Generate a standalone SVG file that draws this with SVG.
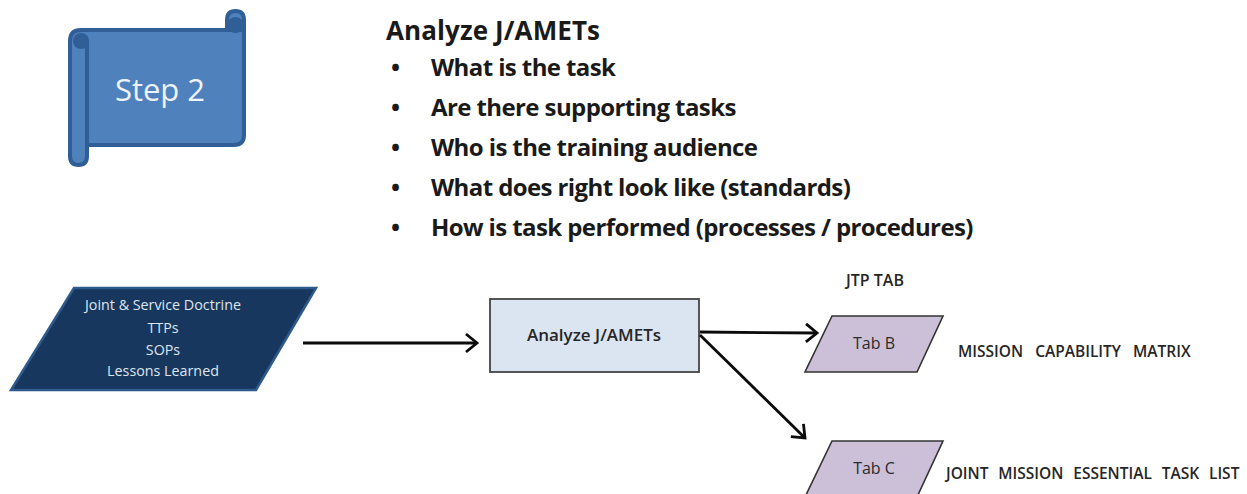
<svg xmlns="http://www.w3.org/2000/svg" width="1247" height="494" viewBox="0 0 1247 494">
<style>
text{font-family:"Open Sans","Noto Sans","Liberation Sans",sans-serif;}
.c{stroke:#0b0b0b;stroke-width:2.8;fill:none;marker-end:url(#a)}
.h{font-size:26px;font-weight:700;fill:#1a1a1a;letter-spacing:.1px}
.b{font-size:24px;font-weight:700;fill:#1a1a1a;letter-spacing:-.6px}
.w{font-size:14.3px;fill:#dfe6ef;text-anchor:middle}
.k{font-weight:600;fill:#262626}
.t{font-size:16px;fill:#2b2b2b;text-anchor:middle}
.p{fill:#ccc0d9;stroke:#333;stroke-width:1.6}
</style>
<defs><marker id="a" markerUnits="userSpaceOnUse" markerWidth="20" markerHeight="24" refX="16" refY="12" orient="auto"><path d="M5 3L16 12L5 21" fill="none" stroke="#0b0b0b" stroke-width="2.8"/></marker></defs>
<rect width="1247" height="494" fill="#fff"/>
<g id="step2">
<path d="M70 41Q70 30 81 30H227V20Q227 11 235.500 11Q244 11 244 20V135Q244 145 234 145H87V156Q87 165 78.500 165Q70 165 70 156Z" fill="#4f81bd" stroke="#2f5f96" stroke-width="4"/>
<path d="M227 30H244M87 146V40" fill="none" stroke="#2f5f96" stroke-width="4"/>
<circle cx="81" cy="41" r="8" fill="#2f5f96"/><circle cx="235.500" cy="25" r="8" fill="#2f5f96"/>
<text x="160" y="101" font-size="31" fill="#eef3f9" text-anchor="middle">Step 2</text>
</g>
<g id="heading">
<text x="386" y="40" class="h">Analyze J/AMETs</text>
<text x="391" y="76" class="b">•</text><text x="431" y="76" class="b">What is the task</text>
<text x="391" y="116" class="b">•</text><text x="431" y="116" class="b">Are there supporting tasks</text>
<text x="391" y="156" class="b">•</text><text x="431" y="156" class="b">Who is the training audience</text>
<text x="391" y="196" class="b">•</text><text x="431" y="196" class="b">What does right look like (standards)</text>
<text x="391" y="236" class="b">•</text><text x="431" y="236" class="b">How is task performed (processes / procedures)</text>
</g>
<g id="doctrine">
<path d="M74 288H316L256 390H11Z" fill="#17375e" stroke="#2e5a8c" stroke-width="2.500"/>
<text x="163" y="310" class="w">Joint &amp; Service Doctrine</text>
<text x="163" y="333" class="w">TTPs</text>
<text x="163" y="355" class="w">SOPs</text>
<text x="163" y="376" class="w">Lessons Learned</text>
</g>
<g id="analyze">
<rect x="490" y="299" width="209" height="73" fill="#dbe5f1" stroke="#444" stroke-width="1.800"/>
<text x="594" y="341" font-size="17" font-weight="600" fill="#262626" text-anchor="middle">Analyze J/AMETs</text>
</g>
<g id="tabb">
<path d="M832 316H943L917 372H805Z" class="p"/>
<text x="874" y="349" class="t">Tab B</text>
</g>
<g id="tabc">
<path d="M832 441H943L917 497H805Z" class="p"/>
<text x="874" y="474" class="t">Tab C</text>
</g>
<text x="875" y="286" class="k" font-size="16" text-anchor="middle">JTP TAB</text>
<text x="958" y="357" class="k" font-size="15.500" word-spacing="8">MISSION CAPABILITY MATRIX</text>
<text x="946" y="479" class="k" font-size="15.500" word-spacing="5.800">JOINT MISSION ESSENTIAL TASK LIST</text>
<g id="connectors">
<path d="M303 343H477" class="c"/>
<path d="M700 332L817 333" class="c"/>
<path d="M700 335L805 438" class="c"/>
</g>
</svg>
